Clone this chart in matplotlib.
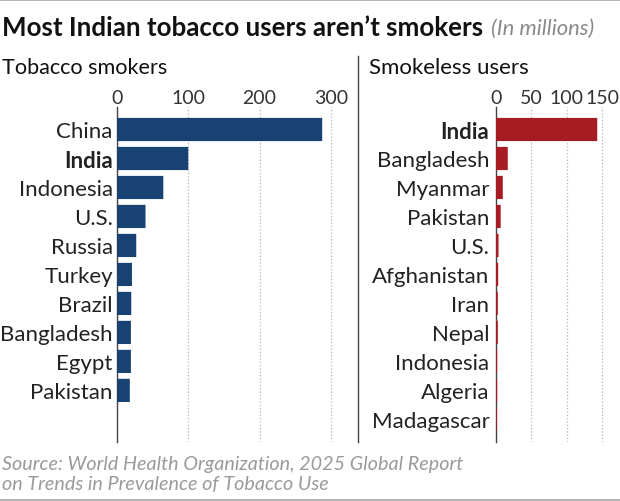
import matplotlib
matplotlib.use('Agg')
import matplotlib.pyplot as plt
from matplotlib.lines import Line2D

plt.rcParams['font.family'] = ['Lato', 'DejaVu Sans']

smoker_names = ['China', 'India', 'Indonesia', 'U.S.', 'Russia', 'Turkey', 'Brazil',
                'Bangladesh', 'Egypt', 'Pakistan']
smoker_vals = [288, 100, 65, 40, 27, 21, 20, 19.5, 19.5, 18]
smoker_ticks = [0, 100, 200, 300]

smokeless_names = ['India', 'Bangladesh', 'Myanmar', 'Pakistan', 'U.S.', 'Afghanistan',
                   'Iran', 'Nepal', 'Indonesia', 'Algeria', 'Madagascar']
smokeless_vals = [143, 17, 10, 7, 4, 3.5, 3, 3, 2, 2, 1.5]
smokeless_ticks = [0, 50, 100, 150]

W, H = 620., 502.
fig = plt.figure(figsize=(6.2, 5.02), dpi=100)

def make_panel(x0, x1, xmax, names, vals, ticks, color, lab_pad):
    ax = fig.add_axes([x0/W, 1-443/H, (x1-x0)/W, (443-108)/H])
    bars = ax.barh(range(len(names)), vals, height=0.8, color=color, zorder=4)
    for b in bars:
        b.set_snap(False)
    ax.set_xlim(0, xmax)
    ax.set_ylim(10.78, -0.776)
    ax.xaxis.tick_top()
    ax.set_xticks(ticks)
    ax.set_yticks(range(len(names)))
    ax.set_yticklabels(names)
    for lab in ax.get_yticklabels():
        if lab.get_text() == 'India':
            lab.set_fontweight('bold')
            lab.set_color('#111111')
    ax.tick_params(axis='y', length=0, pad=lab_pad, labelsize=16, labelcolor='#222222')
    ax.tick_params(axis='x', length=0, pad=0.5, labelsize=14, labelcolor='#333333')
    ax.grid(axis='x', linestyle=':', color='#b5b5b5', lw=0.9, zorder=1)
    for s in ['top', 'right', 'bottom']:
        ax.spines[s].set_visible(False)
    ax.spines['left'].set_color('#444444')
    ax.spines['left'].set_linewidth(1.0)
    ax.spines['left'].set_zorder(3)
    return ax

ax1 = make_panel(117, 345, 320, smoker_names, smoker_vals, smoker_ticks, '#174272', 3)
ax2 = make_panel(495.7, 615, 168, smokeless_names, smokeless_vals, smokeless_ticks, '#a71b22', 4.5)

# title and headers
fig.text(2/W, 1-27.5/H, 'Most Indian tobacco users aren\u2019t smokers', fontsize=18.6,
         fontweight='bold', color='#111111', va='center')
fig.text(491/W, 1-29/H, '(In millions)', fontsize=15.8, style='italic', color='#8a8a8a', va='center')
fig.text(2/W, 1-67.5/H, 'Tobacco smokers', fontsize=15.6, color='#111111', va='center')
fig.text(369/W, 1-67.5/H, 'Smokeless users', fontsize=16, color='#111111', va='center')

# source
fig.text(2/W, 1-465/H, 'Source: World Health Organization, 2025 Global Report', fontsize=14.2,
         style='italic', color='#9a9a9a', va='center')
fig.text(2/W, 1-485/H, 'on Trends in Prevalence of Tobacco Use', fontsize=14.2,
         style='italic', color='#9a9a9a', va='center')

# rules
fig.add_artist(Line2D([0, 1], [1-1/H, 1-1/H], color='#a5a5a5', lw=1.2))
fig.add_artist(Line2D([0, 1], [1-501/H, 1-501/H], color='#a5a5a5', lw=1.2))
fig.add_artist(Line2D([358/W, 358/W], [1-57/H, 1-443/H], color='#444444', lw=1.0))

fig.savefig('out.png', dpi=100)
